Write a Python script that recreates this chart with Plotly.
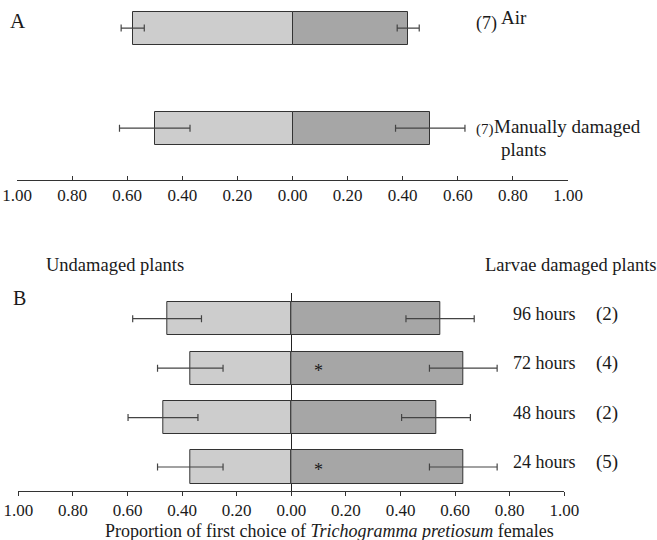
import plotly.graph_objects as go

# ---- data ----
a_cats = ["Manually damaged plants", "Air"]
a_undamaged = [0.50, 0.58]
a_undamaged_err = [0.128, 0.042]
a_damaged = [0.50, 0.42]
a_damaged_err = [0.126, 0.040]
a_n = ["(7)", "(7)"]

b_cats = ["24 hours", "48 hours", "72 hours", "96 hours"]
b_undamaged = [0.37, 0.47, 0.37, 0.455]
b_undamaged_err = [0.12, 0.128, 0.12, 0.126]
b_damaged = [0.63, 0.53, 0.63, 0.545]
b_damaged_err = [0.124, 0.126, 0.124, 0.125]
b_n = ["(5)", "(2)", "(4)", "(2)"]
b_signif = [True, False, True, False]

tick_vals = [-1.0, -0.8, -0.6, -0.4, -0.2, 0.0, 0.2, 0.4, 0.6, 0.8, 1.0]
tick_text = ["1.00", "0.80", "0.60", "0.40", "0.20", "0.00", "0.20", "0.40", "0.60", "0.80", "1.00"]

LIGHT = "#cdcdcd"
DARK = "#a6a6a6"
EDGE = "#333333"
ERR = "#444444"
FONT = "Liberation Serif"
TXT = "#1a1a1a"
W, H = 657, 540

def px(x):
    return x / W

def py(y):
    return 1 - y / H

fig = go.Figure()

a_y = list(range(len(a_cats)))
b_y = list(range(len(b_cats)))

def add_pair(yvals, und, und_err, dam, dam_err, xa, ya, width):
    fig.add_trace(go.Bar(
        y=yvals, x=[-v for v in und], orientation="h", width=width,
        marker=dict(color=LIGHT, line=dict(color=EDGE, width=1)),
        error_x=dict(type="data", array=und_err, symmetric=True, color=ERR, thickness=1.2, width=3.5),
        xaxis=xa, yaxis=ya, showlegend=False, hoverinfo="skip"))
    fig.add_trace(go.Bar(
        y=yvals, x=dam, orientation="h", width=width,
        marker=dict(color=DARK, line=dict(color=EDGE, width=1)),
        error_x=dict(type="data", array=dam_err, symmetric=True, color=ERR, thickness=1.2, width=3.5),
        xaxis=xa, yaxis=ya, showlegend=False, hoverinfo="skip"))

add_pair(a_y, a_undamaged, a_undamaged_err, a_damaged, a_damaged_err, "x", "y", 0.33)
add_pair(b_y, b_undamaged, b_undamaged_err, b_damaged, b_damaged_err, "x2", "y2", 0.67)

common_x = dict(
    range=[-1, 1], tickvals=tick_vals, ticktext=tick_text,
    showline=True, linecolor="#333333", linewidth=1, ticklen=4, tickcolor="#333333",
    showgrid=False, tickfont=dict(family=FONT, size=17, color=TXT),
    automargin=False, ticklabeloverflow="allow",
)

fig.update_layout(
    width=W, height=H, margin=dict(l=0, r=0, t=0, b=0, autoexpand=False),
    paper_bgcolor="white", plot_bgcolor="white",
    barmode="overlay", bargap=0,
    font=dict(family=FONT, size=18, color=TXT),
    xaxis=dict(**common_x, domain=[px(17), px(568)], ticks="inside", zeroline=False, anchor="y"),
    yaxis=dict(range=[-0.517, 1.28], domain=[py(180), 1], visible=False),
    xaxis2=dict(**common_x, domain=[px(18.3), px(564.3)], ticks="outside", zeroline=True,
                zerolinecolor="#222222", zerolinewidth=1, anchor="y2"),
    yaxis2=dict(range=[-0.486, 3.52], domain=[py(491), py(293)], visible=False),
)

ann = []
def text(x, y, s, size=18, xanchor="left"):
    ann.append(dict(x=px(x), y=py(y), xref="paper", yref="paper", text=s, showarrow=False,
                    xanchor=xanchor, yanchor="middle",
                    font=dict(family=FONT, size=size, color=TXT)))

# Panel A labels
text(8, 21, "A", size=21)
text(474, 24, "(7)", size=18)
text(499, 18, "Air", size=19)
text(474, 129, "(7)", size=15)
text(492, 126, "Manually damaged", size=19)
text(499, 149, "plants", size=19)

# Panel B labels
text(44, 265, "Undamaged plants", size=18.5)
text(483, 265, "Larvae damaged plants", size=18.5)
text(11, 298, "B", size=20)

b_centers = [467, 417.5, 368, 318.8]
for i, c in enumerate(b_cats):
    text(511, b_centers[i] - 5, c, size=18)
    text(594, b_centers[i] - 5, b_n[i], size=19)

for i, s in enumerate(b_signif):
    if s:
        ann.append(dict(x=0.1, y=b_y[i], xref="x2", yref="y2", text="*", showarrow=False,
                        xanchor="center", yanchor="middle", yshift=-3,
                        font=dict(family=FONT, size=18, color=TXT)))

ann.append(dict(x=px(329), y=py(531), xref="paper", yref="paper",
                text="Proportion of first choice of <i>Trichogramma pretiosum</i> females",
                showarrow=False, xanchor="center", yanchor="middle",
                font=dict(family=FONT, size=18, color=TXT)))

fig.update_layout(annotations=ann)
fig.write_html("out.html", config={"displayModeBar": False},
               post_script="document.body.style.margin='0';document.body.style.padding='0';")
